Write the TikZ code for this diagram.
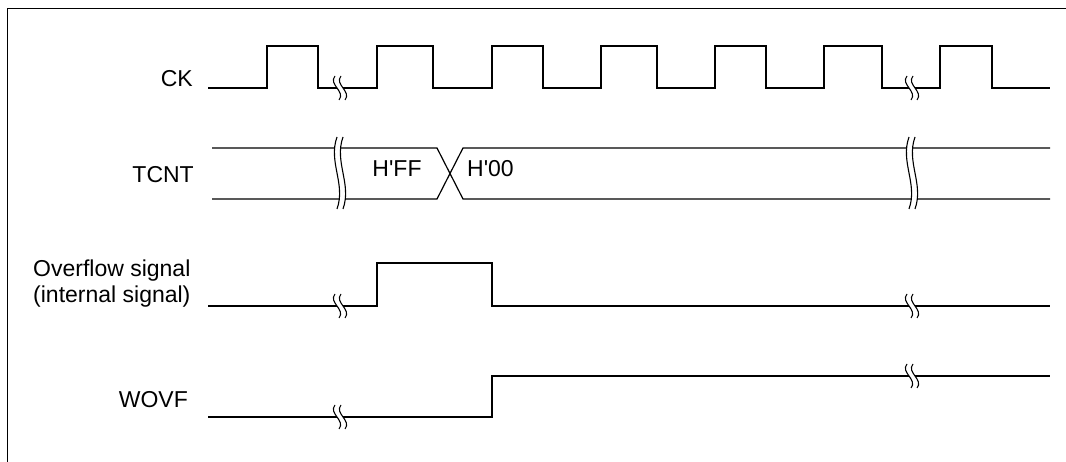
\documentclass[tikz,border=0pt]{standalone}
\usepackage{fontspec}
\setmainfont{Liberation Sans}
\newcommand\wbrk[5]{% x, y, half height, bulge, slant
  \fill[white] (#1-3-#5,#2-#3) .. controls (#1-3-#5-#4,#2-0.3*#3) and (#1-3+#5+#4,#2+0.3*#3) .. (#1-3+#5,#2+#3)
     -- (#1+3+#5,#2+#3) .. controls (#1+3+#5+#4,#2+0.3*#3) and (#1+3-#5-#4,#2-0.3*#3) .. (#1+3-#5,#2-#3) -- cycle;
  \draw[brk] (#1-3-#5,#2-#3) .. controls (#1-3-#5-#4,#2-0.3*#3) and (#1-3+#5+#4,#2+0.3*#3) .. (#1-3+#5,#2+#3);
  \draw[brk] (#1+3-#5,#2-#3) .. controls (#1+3-#5-#4,#2-0.3*#3) and (#1+3+#5+#4,#2+0.3*#3) .. (#1+3+#5,#2+#3);
}
\begin{document}
\begin{tikzpicture}[x=1pt,y=-1pt,
  wave/.style={line width=1.2pt,line join=miter},
  brk/.style={line width=1.1pt},
  frame/.style={line width=1pt},
  lbl/.style={inner sep=0pt,font=\fontsize{23}{26}\selectfont}]
\useasboundingbox (0,0) rectangle (1066,462);
% frame
\draw[frame] (7,462) -- (7,9) -- (1066,9);
% labels
\node[lbl,anchor=base east] (ck) at (193,87) {CK};
\node[lbl,anchor=base east] (tcnt) at (194,183) {TCNT};
\node[lbl,anchor=base west] (ovf1) at (33,277) {Overflow signal};
\node[lbl,anchor=base west] (ovf2) at (33,303) {(internal signal)};
\node[lbl,anchor=base east] (wovf) at (188,407) {WOVF};
\node[lbl,anchor=base] (hff) at (397,177) {H\textquotesingle FF};
\node[lbl,anchor=base west] (h00) at (467,177) {H\textquotesingle 00};
% CK
\draw[wave] (208,88) -- (267,88) -- (267,46) -- (318,46) -- (318,88) -- (377,88) -- (377,46)
  -- (433,46) -- (433,88) -- (492,88) -- (492,46) -- (543,46) -- (543,88) -- (601,88) -- (601,46)
  -- (657,46) -- (657,88) -- (715,88) -- (715,46) -- (766,46) -- (766,88) -- (824,88) -- (824,46)
  -- (882,46) -- (882,88) -- (940,88) -- (940,46) -- (992,46) -- (992,88) -- (1050,88);
\wbrk{340}{88}{12}{7}{2}
\wbrk{912}{88}{12}{7}{2}
% TCNT
\draw[wave] (212,148) -- (437,148) -- (463,199) -- (1050,199);
\draw[wave] (212,199) -- (437,199) -- (463,148) -- (1050,148);
\wbrk{340}{173}{36}{9}{0}
\wbrk{912}{173}{36}{9}{0}
% Overflow signal
\draw[wave] (208,306) -- (377,306) -- (377,263) -- (492,263) -- (492,306) -- (1050,306);
\wbrk{340}{306}{12}{7}{2}
\wbrk{912}{306}{12}{7}{2}
% WOVF
\draw[wave] (208,417) -- (492,417) -- (492,376) -- (1050,376);
\wbrk{340}{417}{12}{7}{2}
\wbrk{912}{376}{12}{7}{2}
\end{tikzpicture}
\end{document}
